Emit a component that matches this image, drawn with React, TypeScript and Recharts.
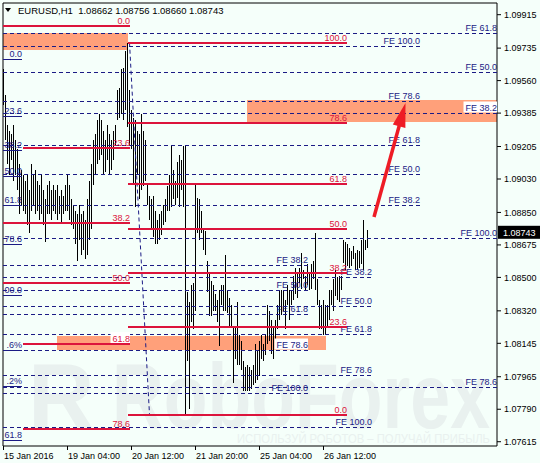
import React from 'react';
import { ComposedChart, Bar, XAxis, YAxis, ReferenceLine, ReferenceArea } from 'recharts';

// ---- bar data (H1 high / low), one bar per hour ----
const barHigh = [
  1.0962, 1.0948, 1.0932, 1.0929, 1.0927, 1.0932, 1.0924, 1.0919, 1.0911, 1.0908,
  1.0905, 1.0902, 1.0905, 1.0897, 1.0911, 1.0905, 1.0908, 1.0902, 1.0900, 1.0905,
  1.0897, 1.0892, 1.0900, 1.0902, 1.0897, 1.0900, 1.0897, 1.0900, 1.0894, 1.0897,
  1.0894, 1.0900, 1.0905, 1.0900, 1.0892, 1.0889, 1.0886, 1.0884, 1.0889, 1.0884,
  1.0886, 1.0881, 1.0892, 1.0902, 1.0911, 1.0924, 1.0927, 1.0935, 1.0938, 1.0935,
  1.0929, 1.0924, 1.0932, 1.0927, 1.0924, 1.0929, 1.0932, 1.0951, 1.0952, 1.0962,
  1.0963, 1.0972, 1.0976, 1.0951, 1.0940, 1.0936, 1.0935, 1.0929, 1.0927, 1.0938,
  1.0929, 1.0924, 1.0900, 1.0894, 1.0892, 1.0894, 1.0886, 1.0881, 1.0884, 1.0886,
  1.0889, 1.0892, 1.0899, 1.0905, 1.0921, 1.0908, 1.0902, 1.0912, 1.0916, 1.0913,
  1.0921, 1.0921, 1.0842, 1.0837, 1.0846, 1.0847, 1.0901, 1.0893, 1.0892, 1.0886,
  1.0876, 1.0875, 1.0859, 1.0853, 1.0848, 1.0846, 1.0841, 1.0838, 1.0843, 1.0846,
  1.0846, 1.0862, 1.0843, 1.0839, 1.0835, 1.0823, 1.0824, 1.0837, 1.0819, 1.0816,
  1.0805, 1.0802, 1.0803, 1.0802, 1.0800, 1.0803, 1.0814, 1.0811, 1.0816, 1.0819,
  1.0814, 1.0819, 1.0835, 1.0832, 1.0827, 1.0823, 1.0827, 1.0835, 1.0843, 1.0843,
  1.0843, 1.0838, 1.0846, 1.0843, 1.0843, 1.0851, 1.0855, 1.0852, 1.0855, 1.0863,
  1.0854, 1.0851, 1.0857, 1.0852, 1.0857, 1.0859, 1.0874, 1.0849, 1.0838, 1.0835,
  1.0838, 1.0835, 1.0835, 1.0843, 1.0843, 1.0849, 1.0854, 1.0850, 1.0851, 1.0851,
  1.0870, 1.0869, 1.0868, 1.0866, 1.0864, 1.0867, 1.0863, 1.0865, 1.0864, 1.0870,
  1.0881, 1.0870, 1.08756,
];
const barLow = [
  1.0943, 1.0924, 1.0911, 1.0905, 1.0913, 1.0902, 1.0905, 1.0897, 1.0884, 1.0889,
  1.0886, 1.0884, 1.0878, 1.0874, 1.0886, 1.0889, 1.0884, 1.0886, 1.0881, 1.0884,
  1.0878, 1.0869, 1.0884, 1.0884, 1.0881, 1.0886, 1.0884, 1.0881, 1.0884, 1.0880,
  1.0884, 1.0886, 1.0886, 1.0881, 1.0878, 1.0876, 1.0868, 1.0859, 1.0870, 1.0862,
  1.0865, 1.0860, 1.0862, 1.0870, 1.0876, 1.0900, 1.0905, 1.0911, 1.0913, 1.0916,
  1.0905, 1.0907, 1.0913, 1.0905, 1.0908, 1.0913, 1.0921, 1.0935, 1.0936, 1.0938,
  1.0935, 1.0940, 1.0931, 1.0921, 1.0919, 1.0900, 1.0888, 1.0905, 1.0892, 1.0897,
  1.0899, 1.0902, 1.0889, 1.0881, 1.0876, 1.0872, 1.0868, 1.0868, 1.0870, 1.0873,
  1.0878, 1.0880, 1.0886, 1.0886, 1.0888, 1.0892, 1.0889, 1.0893, 1.0888, 1.0897,
  1.0888, 1.0776, 1.0805, 1.0779, 1.0826, 1.0822, 1.0832, 1.0874, 1.0870, 1.0874,
  1.0865, 1.0862, 1.0842, 1.0829, 1.0829, 1.0832, 1.0832, 1.0826, 1.0813, 1.0835,
  1.0832, 1.0832, 1.0831, 1.0824, 1.0824, 1.0793, 1.0806, 1.0803, 1.0803, 1.0800,
  1.0789, 1.0789, 1.0789, 1.0789, 1.0790, 1.0792, 1.0793, 1.0795, 1.0797, 1.0806,
  1.0805, 1.0808, 1.0814, 1.0816, 1.0809, 1.0806, 1.0814, 1.0822, 1.0827, 1.0830,
  1.0832, 1.0822, 1.0835, 1.0827, 1.0835, 1.0838, 1.0841, 1.0839, 1.0847, 1.0844,
  1.0849, 1.0843, 1.0846, 1.0843, 1.0844, 1.0849, 1.0843, 1.0835, 1.0822, 1.0822,
  1.0819, 1.0819, 1.0824, 1.0827, 1.0835, 1.0832, 1.0840, 1.0838, 1.0837, 1.0843,
  1.0858, 1.0854, 1.0856, 1.0855, 1.0856, 1.0860, 1.0854, 1.0854, 1.0855, 1.0857,
  1.0854, 1.0865, 1.08660,
];

// ---- axes ----
const timeTickIndex = [0, 32, 64, 96, 128, 160];
const timeTickLabels = ['15 Jan 2016', '19 Jan 04:00', '20 Jan 12:00', '21 Jan 20:00', '25 Jan 04:00', '26 Jan 12:00'];
const priceTicks = [1.09915, 1.09735, 1.0956, 1.09385, 1.09205, 1.0903, 1.0885, 1.08675, 1.085, 1.0832, 1.08145, 1.07965, 1.0779, 1.07615];
const priceMin = 1.07592;
const priceMax = 1.09978;
const slotFirst = -0.25;
const slotLast = 246.75;
const lastPrice = 1.08743;
const titleText = 'EURUSD,H1  1.08662 1.08756 1.08660 1.08743';

// ---- red Fibonacci retracement A (left) ----
const fibALevels = [1.09854, 1.09197, 1.08795, 1.08472, 1.08143, 1.07682];
const fibALabels = ['0.0', '23.6', '38.2', '50.0', '61.8', '78.6'];
const fibAStart = [-0.25, 9.75, -0.25, -0.25, 9.75, 9.75];
const fibAEnd = 63.25;

// ---- red Fibonacci retracement B ----
const fibBLevels = [1.09764, 1.09334, 1.09002, 1.08762, 1.08525, 1.08233, 1.07761];
const fibBLabels = ['100.0', '78.6', '61.8', '50.0', '38.2', '23.6', '0.0'];
const fibBStart = 62.25;
const fibBEnd = 171.75;

// ---- blue fib (left edge, anchor off screen) ----
const blueLevels = [1.09671, 1.09369, 1.09186, 1.09041, 1.0889, 1.08675, 1.08405, 1.08109, 1.07915, 1.07624];
const blueLabels = ['0.0', '23.6', '38.2', '50.0', '61.8', '78.6', '00.0', '.6%', '.2%', '61.8'];
const blueEnd = 9.25;

// ---- Fibonacci expansions (dashed) ----
const fe1Levels = [1.09815, 1.09603, 1.09384, 1.08711, 1.07906];
const fe1Labels = ['FE 61.8', 'FE 50.0', 'FE 38.2', 'FE 100.0', 'FE 78.6'];
const fe1Bg = [false, false, true, false, false];
const fe1End = 246.75;
const fe2Levels = [1.09743, 1.09446, 1.09213, 1.09052, 1.08885];
const fe2Labels = ['FE 100.0', 'FE 78.6', 'FE 61.8', 'FE 50.0', 'FE 38.2'];
const fe2End = 208.25;
const fe3Levels = [1.08562, 1.08432, 1.08298, 1.08109, 1.07877];
const fe3Labels = ['FE 38.2', 'FE 50.0', 'FE 61.8', 'FE 78.6', 'FE 100.0'];
const fe3Bg = [false, false, false, true, false];
const fe3End = 152.25;
const fe4Levels = [1.08499, 1.08342, 1.0819, 1.07974, 1.07693];
const fe4Labels = ['FE 38.2', 'FE 50.0', 'FE 61.8', 'FE 78.6', 'FE 100.0'];
const fe4End = 184.25;

// ---- zones ----
const zoneFrom = [-0.25, 121.75, 26.75];
const zoneTo = [62.25, 246.75, 161.25];
const zoneLow = [1.09725, 1.09337, 1.08109];
const zoneHigh = [1.09816, 1.09456, 1.08185];

// ---- trend line & arrow ----
const trendFrom = { i: 63, p: 1.09764 };
const trendTo = { i: 73, p: 1.07761 };
const arrowFrom = { i: 185.25, p: 1.08825 };
const arrowTo = { i: 201, p: 1.09439 };

const BG = '#F5FFFA';
const NAVY = '#1B1B85';
const RED = '#DC143C';
const ARROW = '#EE1C25';
const ZONE = '#FFA07A';
const WM = '#E9F1EF';
const FONT = '"Liberation Sans", Arial, sans-serif';

const data = barHigh.map((h, i) => ({ i, hl: [barLow[i], h] }));

function approxWidth(s: string) {
  let w = 0;
  for (const c of s) {
    if (c >= '0' && c <= '9') w += 5;
    else if (c === '.' || c === ' ') w += 2.5;
    else if (c === '%') w += 8;
    else if (c === 'F') w += 5.5;
    else w += 6;
  }
  return w;
}

const levelShape = (text: string, color: string, labelColor: string, sw: number, dash: string | undefined, bg: boolean) =>
  (p: any) => {
    const y = sw === 1 ? Math.floor(p.y1) + 0.5 : Math.round(p.y1);
    const x1 = Math.round(p.x1);
    const x2 = Math.round(p.x2);
    const w = approxWidth(text);
    return (
      <g>
        <line x1={x1} y1={y} x2={x2} y2={y} stroke={color} strokeWidth={sw} strokeDasharray={dash} />
        {bg && <rect x={x2 - w - 2} y={y - 12} width={w + 2} height={11} fill="#FFFFFF" />}
        <text x={x2} y={y - 2.5} textAnchor="end" fontSize={9} fontFamily={FONT} fill={labelColor}>{text}</text>
      </g>
    );
  };

const arrowShape = (p: any) => {
  const { x1, y1, x2, y2 } = p;
  const dx = x2 - x1;
  const dy = y2 - y1;
  const len = Math.hypot(dx, dy);
  const ux = dx / len;
  const uy = dy / len;
  const hl = 24;
  const hw = 6.5;
  const bx = x2 - ux * hl;
  const by = y2 - uy * hl;
  return (
    <g>
      <line x1={x1} y1={y1} x2={bx + ux * 3} y2={by + uy * 3} stroke={ARROW} strokeWidth={3.5} />
      <polygon points={`${x2},${y2} ${bx - uy * hw},${by + ux * hw} ${bx + uy * hw},${by - ux * hw}`} fill={ARROW} />
    </g>
  );
};

const priceBoxShape = (p: any) => {
  const y = p.y1;
  return (
    <g>
      <rect x={498} y={y - 6.5} width={42} height={13} fill="#000" />
      <text x={503} y={y + 3.3} fontSize={9} fontFamily={FONT} fill="#fff">{lastPrice.toFixed(5)}</text>
    </g>
  );
};

const HLBar = (p: any) => {
  if (p.height == null || p.width == null) return null;
  const cx = p.x + p.width / 2;
  const x = Math.floor(cx);
  const top = Math.round(p.y);
  const h = Math.max(1, Math.round(p.y + p.height) - top);
  return <rect x={x} y={top} width={1} height={h} fill="#000" />;
};

const TimeTick = (props: any) => {
  const { x, y, payload } = props;
  const k = timeTickIndex.indexOf(payload.value);
  return (
    <text x={x + 0.5} y={y + 6.5} fontSize={9} fontFamily={FONT} fill="#000" textAnchor="start">
      {k >= 0 ? timeTickLabels[k] : ''}
    </text>
  );
};

export default function App() {
  const seg = (a: number, b: number, p: number) => [{ x: a, y: p }, { x: b, y: p }] as any;
  return (
    <div style={{ position: 'absolute', left: 0, top: 0, width: 540, height: 463, background: BG, overflow: 'hidden' }}>
      <svg width={540} height={463} style={{ position: 'absolute', left: 0, top: 0 }}>
        <text x={28} y={428} fontSize={92} fontWeight="bold" fontFamily={FONT} fill={WM}>R</text>
        <text x={112} y={428} fontSize={92} fontWeight="bold" fontFamily={FONT} fill={WM} textLength={378} lengthAdjust="spacingAndGlyphs">RoboForex</text>
        <text x={237} y={443} fontSize={12} fontFamily={FONT} fill={WM} textLength={253} lengthAdjust="spacingAndGlyphs">ИСПОЛЬЗУЙ РОБОТОВ – ПОЛУЧАЙ ПРИБЫЛЬ</text>
      </svg>
      <div style={{ position: 'absolute', left: 0, top: 0 }}>
        <ComposedChart width={540} height={463} data={data} margin={{ top: 3, right: 0, bottom: 0, left: 3 }}>
          <XAxis
            dataKey="i"
            type="number"
            domain={[slotFirst, slotLast]}
            ticks={timeTickIndex}
            interval={0}
            height={17}
            tickSize={4}
            tickMargin={2}
            axisLine={false}
            tickLine={{ stroke: '#000' }}
            tick={<TimeTick />}
            allowDataOverflow
          />
          <YAxis
            orientation="right"
            width={43}
            domain={[priceMin, priceMax]}
            ticks={priceTicks}
            interval={0}
            tickSize={4}
            tickMargin={3}
            axisLine={false}
            tickLine={{ stroke: '#000' }}
            tick={{ fontSize: 9, fill: '#000', fontFamily: FONT }}
            tickFormatter={(v: number) => v.toFixed(5)}
            allowDataOverflow
          />
          {zoneFrom.map((x1, k) => (
            <ReferenceArea key={'z' + k} x1={x1} x2={zoneTo[k]} y1={zoneLow[k]} y2={zoneHigh[k]} fill={ZONE} fillOpacity={1} stroke="none" ifOverflow="visible" />
          ))}
          {fe1Levels.map((p, k) => (
            <ReferenceLine key={'f1' + k} segment={seg(slotFirst, fe1End, p)} ifOverflow="visible" shape={levelShape(fe1Labels[k], NAVY, NAVY, 1, '4 3', fe1Bg[k])} />
          ))}
          {fe2Levels.map((p, k) => (
            <ReferenceLine key={'f2' + k} segment={seg(slotFirst, fe2End, p)} ifOverflow="visible" shape={levelShape(fe2Labels[k], NAVY, NAVY, 1, '4 3', false)} />
          ))}
          {fe3Levels.map((p, k) => (
            <ReferenceLine key={'f3' + k} segment={seg(slotFirst, fe3End, p)} ifOverflow="visible" shape={levelShape(fe3Labels[k], NAVY, NAVY, 1, '4 3', fe3Bg[k])} />
          ))}
          {fe4Levels.map((p, k) => (
            <ReferenceLine key={'f4' + k} segment={seg(slotFirst, fe4End, p)} ifOverflow="visible" shape={levelShape(fe4Labels[k], NAVY, NAVY, 1, '4 3', false)} />
          ))}
          <ReferenceLine
            segment={[{ x: trendFrom.i, y: trendFrom.p }, { x: trendTo.i, y: trendTo.p }]}
            stroke={NAVY}
            strokeDasharray="4 3"
            ifOverflow="visible"
          />
          <Bar dataKey="hl" fill="#000" barSize={1} shape={HLBar} isAnimationActive={false} />
          {fibALevels.map((p, k) => (
            <ReferenceLine key={'a' + k} segment={seg(fibAStart[k], fibAEnd, p)} ifOverflow="visible" shape={levelShape(fibALabels[k], RED, RED, 2, undefined, k === 4)} />
          ))}
          {fibBLevels.map((p, k) => (
            <ReferenceLine key={'b' + k} segment={seg(fibBStart, fibBEnd, p)} ifOverflow="visible" shape={levelShape(fibBLabels[k], RED, RED, 2, undefined, false)} />
          ))}
          {blueLevels.map((p, k) => (
            <ReferenceLine key={'c' + k} segment={seg(slotFirst, blueEnd, p)} ifOverflow="visible" shape={levelShape(blueLabels[k], NAVY, NAVY, 1, undefined, false)} />
          ))}
          <ReferenceLine
            segment={[{ x: arrowFrom.i, y: arrowFrom.p }, { x: arrowTo.i, y: arrowTo.p }]}
            ifOverflow="visible"
            shape={arrowShape}
          />
          <ReferenceLine y={lastPrice} ifOverflow="visible" shape={priceBoxShape} />
          <ReferenceArea x1={slotFirst} x2={slotLast} y1={priceMin} y2={priceMax} fill="none" stroke="#000" strokeWidth={1} ifOverflow="visible" />
        </ComposedChart>
      </div>
      <svg width={540} height={20} style={{ position: 'absolute', left: 0, top: 0 }}>
        <polygon points="5,8 11,8 8,12" fill="#000" />
        <text x={18} y={14} fontSize={9.5} fontFamily={FONT} fill="#000" xmlSpace="preserve">{titleText}</text>
      </svg>
    </div>
  );
}
